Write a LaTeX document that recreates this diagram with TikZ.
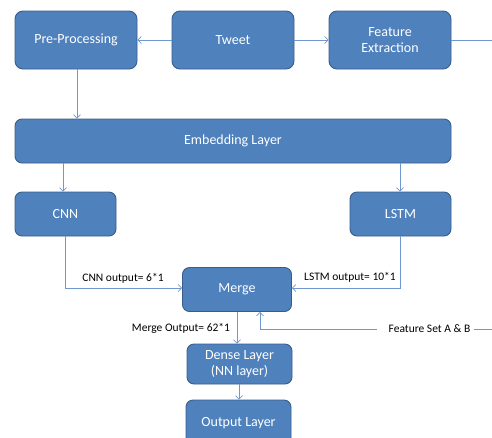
\documentclass[tikz,border=0pt]{standalone}
\usepackage{fontspec}
\setmainfont{Carlito}
\usetikzlibrary{arrows.meta}
\definecolor{boxfill}{RGB}{79,129,189}
\definecolor{boxedge}{RGB}{56,93,138}
\definecolor{wire}{RGB}{112,152,206}
\tikzset{
  block/.style={draw=boxedge, fill=boxfill, line width=0.9pt, rounded corners=8pt,
    text=white, font=\fontsize{14}{16}\selectfont, align=center, inner sep=0pt},
  conn/.style={draw=wire, line width=0.8pt},
  arr/.style={conn, -{Straight Barb[length=3.5pt,width=7pt,line width=0.7pt]}},
  lbl/.style={font=\fontsize{11.5}{13}\selectfont, text=black, inner sep=0pt},
}
\begin{document}
\begin{tikzpicture}[x=1pt,y=-1pt]
\useasboundingbox (0,0) rectangle (492,437);
\begin{scope}
\clip (0,0) rectangle (492,437);
% top row
\node[block, minimum width=122pt, minimum height=58pt] (pre) at (76,40) {Pre-Processing};
\node[block, minimum width=122pt, minimum height=58pt] (tweet) at (233,40) {Tweet};
\node[block, minimum width=122pt, minimum height=58pt] (feat) at (390,40) {Feature\\Extraction};
% embedding
\node[block, minimum width=436pt, minimum height=44pt, rounded corners=7pt] (emb) at (233,141) {Embedding Layer};
% branches
\node[block, minimum width=101pt, minimum height=44pt, rounded corners=7pt] (cnn) at (65.5,214) {CNN};
\node[block, minimum width=101pt, minimum height=44pt, rounded corners=7pt] (lstm) at (400.5,214) {LSTM};
% merge and head
\node[block, minimum width=109pt, minimum height=44pt, rounded corners=7pt] (merge) at (237,289.5) {Merge};
\node[block, minimum width=105pt, minimum height=40pt, rounded corners=7pt] (dense) at (239.5,364) {Dense Layer\\(NN layer)};
\node[block, minimum width=105pt, minimum height=46pt, rounded corners=7pt] (out) at (238.5,423) {Output Layer};

% free ends on the right edge
\coordinate (featEnd) at (492,40);
\coordinate (fsEnd) at (492,329);

% connectors
\draw[arr] (tweet.west) -- (pre.east);
\draw[arr] (tweet.east) -- (feat.west);
\draw[conn] (feat.east) -- (featEnd);
\draw[arr] (pre.south -| 77,0) -- (emb.north -| 77,0);
\draw[arr] (emb.south -| 63,0) -- (cnn.north -| 63,0);
\draw[arr] (emb.south -| 400,0) -- (lstm.north -| 400,0);
\draw[arr] (cnn.south -| 65,0) |- (merge.west |- 0,288);
\draw[arr] (lstm.south -| 400,0) |- (merge.east |- 0,288);
\draw[arr] (merge.south -| 237,0) -- (dense.north -| 237,0);
\draw[arr] (dense.south -| 239,0) -- (out.north -| 239,0);

% feature set input
\node[lbl] (fs) at (429.5,329) {Feature Set A \& B};
\draw[conn] (fsEnd) -- (fs.east -| 474,0);
\draw[arr] (fs.west -| 377,0) -| (merge.south -| 260,0);

% labels
\node[lbl] (cnnout) at (123,278) {CNN output= 6*1};
\node[lbl] (lstmout) at (350,277) {LSTM output= 10*1};
\node[lbl] (mergeout) at (181,328) {Merge Output= 62*1};
\end{scope}
\end{tikzpicture}
\end{document}
